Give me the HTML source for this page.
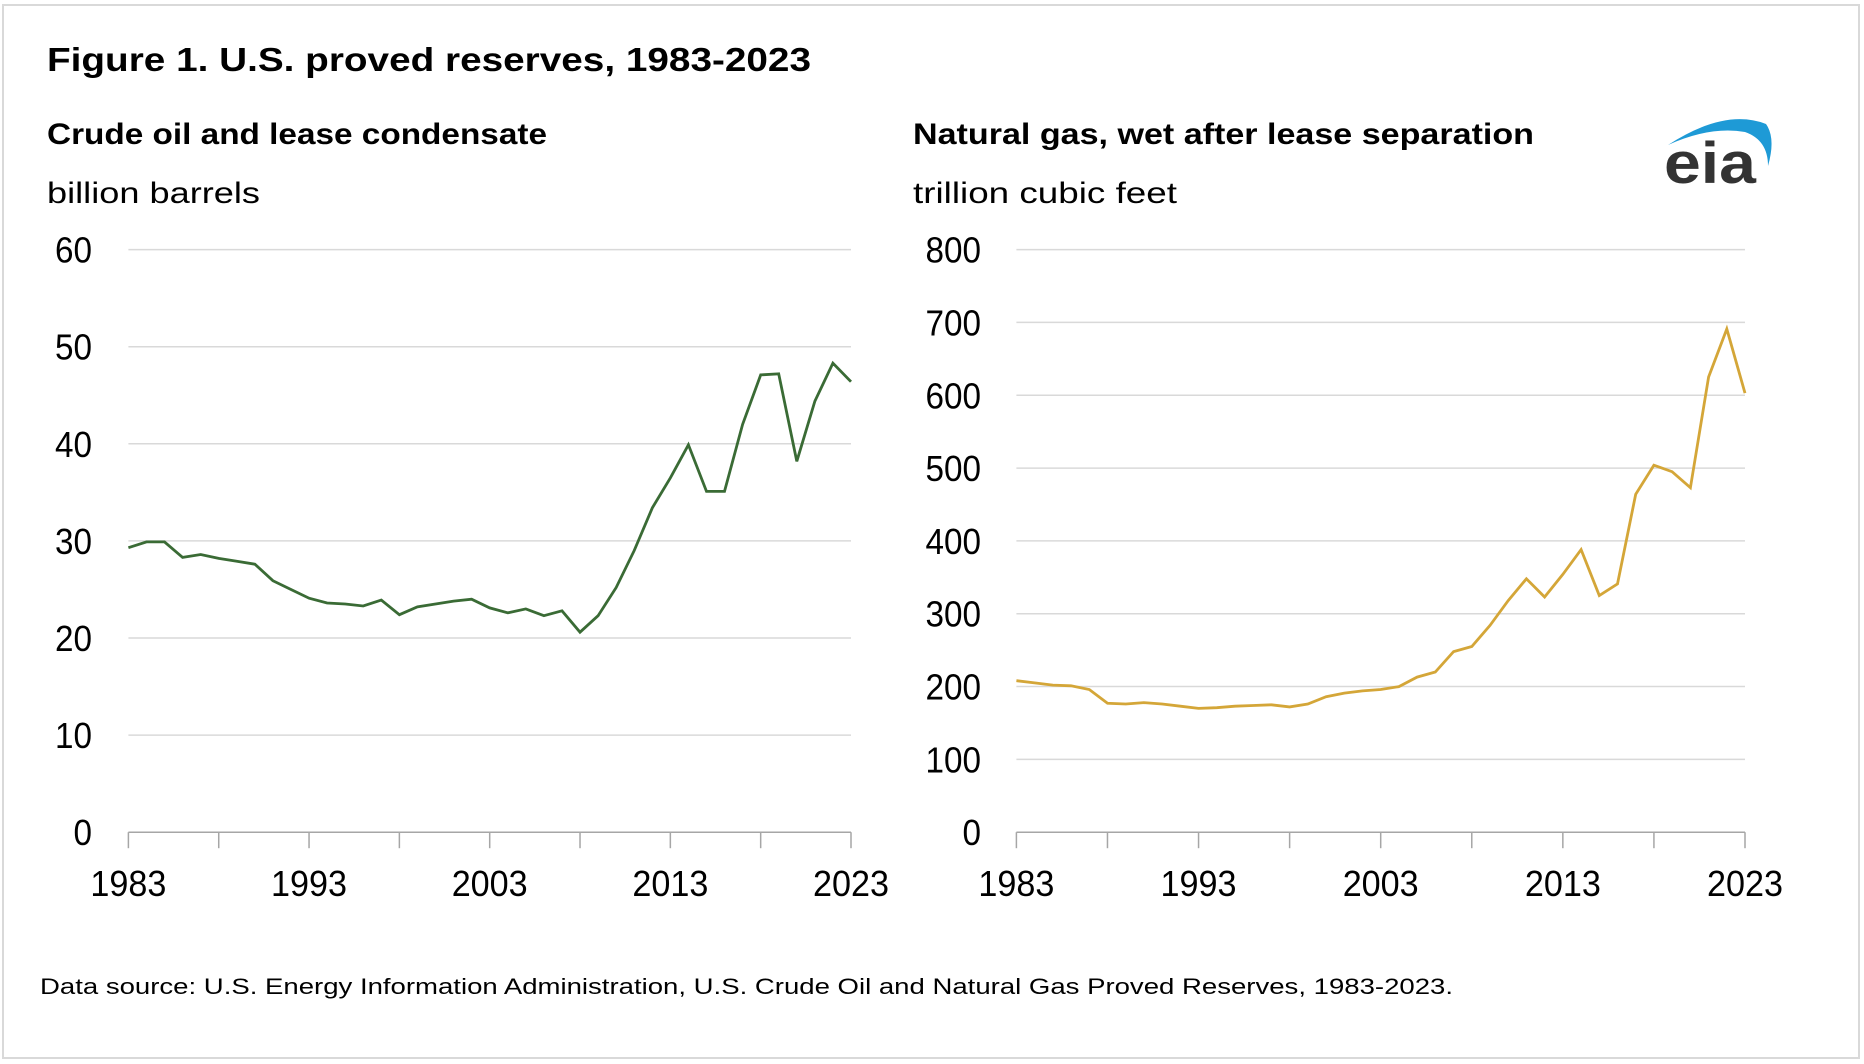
<!DOCTYPE html>
<html><head><meta charset="utf-8"><style>
html,body{margin:0;padding:0;background:#fff;}
svg{display:block;font-family:"Liberation Sans",Arial,sans-serif;}
</style></head><body>
<svg id="chart" width="1864" height="1064" viewBox="0 0 1864 1064">
<rect x="3" y="5" width="1856" height="1053" fill="#fff" stroke="#d9d9d9" stroke-width="2"/>
<text x="47" y="71" font-size="33" font-weight="bold" fill="#000" textLength="764" lengthAdjust="spacingAndGlyphs">Figure 1. U.S. proved reserves, 1983-2023</text>
<text x="47" y="144" font-size="30" font-weight="bold" fill="#000" textLength="500" lengthAdjust="spacingAndGlyphs">Crude oil and lease condensate</text>
<text x="47" y="203" font-size="30" fill="#000" textLength="213" lengthAdjust="spacingAndGlyphs">billion barrels</text>
<text x="913" y="144" font-size="30" font-weight="bold" fill="#000" textLength="621" lengthAdjust="spacingAndGlyphs">Natural gas, wet after lease separation</text>
<text x="913" y="203" font-size="30" fill="#000" textLength="264" lengthAdjust="spacingAndGlyphs">trillion cubic feet</text>
<g>
<path d="M1668,145 Q1725,108 1766,124 Q1776,138 1768,166 Q1768,140 1745,132 Q1710,126 1668,145 Z" fill="#1e9ad6"/>
<text x="1664" y="183" font-size="58" font-weight="bold" fill="#333" textLength="92" lengthAdjust="spacingAndGlyphs">eia</text>
</g>
<text x="40" y="994" font-size="22" fill="#000" textLength="1413" lengthAdjust="spacingAndGlyphs">Data source: U.S. Energy Information Administration, U.S. Crude Oil and Natural Gas Proved Reserves, 1983-2023.</text>
<g id="plots"></g>
</svg>
<script>
const years = [];
for (let y = 1983; y <= 2023; y++) years.push(y);
const oilValues = [29.3,29.9,29.9,28.3,28.6,28.2,27.9,27.6,25.9,25.0,24.1,23.6,23.5,23.3,23.9,22.4,23.2,23.5,23.8,24.0,23.1,22.6,23.0,22.3,22.8,20.6,22.3,25.2,29.0,33.4,36.5,39.9,35.1,35.1,42.0,47.1,47.2,38.2,44.4,48.3,46.4];
const gasValues = [208,205,202,201,196,177,176,178,176,173,170,171,173,174,175,172,176,186,191,194,196,200,213,220,248,255,284,318,348,323,354,388,325,341,464,504,495,473,625,691,603];
const oilTicks = [0,10,20,30,40,50,60];
const gasTicks = [0,100,200,300,400,500,600,700,800];
const xTickLabels = [1983,1993,2003,2013,2023];

const NS = "http://www.w3.org/2000/svg";
const plots = document.getElementById('plots');
function mk(tag, attrs, parent) {
  const e = document.createElementNS(NS, tag);
  for (const k in attrs) e.setAttribute(k, attrs[k]);
  parent.appendChild(e);
  return e;
}
function drawPanel(cfg) {
  const g = mk('g', {}, plots);
  
  
  const x0 = cfg.x0, x1 = cfg.x1, yTop = 249.6, yBot = 832.2;
  const ymax = cfg.ticks[cfg.ticks.length - 1];
  const xs = v => x0 + (v - 1983) / 40 * (x1 - x0);
  const ys = v => yBot - v / ymax * (yBot - yTop);
  cfg.ticks.forEach(t => {
    if (t > 0) {
      const l = mk('line', {x1: x0, x2: x1, y1: ys(t), y2: ys(t), stroke: '#d9d9d9', 'stroke-width': 1.5}, g);
      
      
    }
    const s = String(t);
    const tx = mk('text', {x: cfg.labelRight, y: ys(t) + 13, 'font-size': 36, 'text-anchor': 'end', fill: '#000', textLength: s.length * 18.5, lengthAdjust: 'spacingAndGlyphs'}, g);
    tx.textContent = t;
    
    
  });
  const ax = mk('line', {x1: x0, x2: x1, y1: yBot, y2: yBot, stroke: '#a6a6a6', 'stroke-width': 1.5}, g);
  
  
  for (let y = 1983; y <= 2023; y += 5) {
    const tk = mk('line', {x1: xs(y), x2: xs(y), y1: yBot, y2: yBot + 16, stroke: '#a6a6a6', 'stroke-width': 1.5}, g);
    
    
  }
  xTickLabels.forEach(y => {
    const tx = mk('text', {x: xs(y), y: 896, 'font-size': 36, 'text-anchor': 'middle', fill: '#000', textLength: 76, lengthAdjust: 'spacingAndGlyphs'}, g);
    tx.textContent = y;
    
    
  });
  const pts = cfg.values.map((v, i) => xs(years[i]).toFixed(1) + ',' + ys(v).toFixed(1)).join(' ');
  const pl = mk('polyline', {points: pts, fill: 'none', stroke: cfg.color, 'stroke-width': 2.8, 'stroke-linejoin': 'miter'}, g);
  
  
}
drawPanel({name: 'oil-chart', x0: 128.4, x1: 851, labelRight: 92, ticks: oilTicks, values: oilValues, color: '#3a6b35'});
drawPanel({name: 'gas-chart', x0: 1016.4, x1: 1745, labelRight: 981, ticks: gasTicks, values: gasValues, color: '#d4a638'});
</script>
</body></html>
